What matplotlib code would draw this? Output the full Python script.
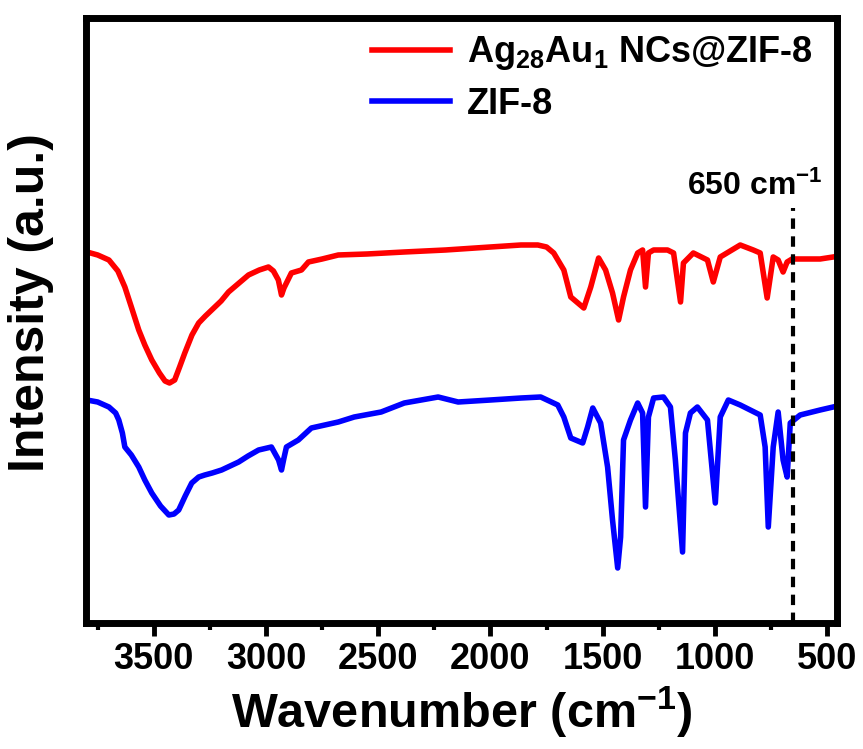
import matplotlib
matplotlib.use('Agg')
import matplotlib.pyplot as plt

# wavenumber (cm-1) and intensity (a.u.)
red_x = [3798, 3750, 3700, 3660, 3629, 3600, 3567, 3540, 3509, 3475, 3450, 3430,
         3407, 3385, 3362, 3330, 3300, 3270, 3242, 3200, 3167, 3120, 3078, 3030,
         2989, 2967, 2945, 2931, 2920, 2909, 2887, 2842, 2811, 2750, 2678, 2550,
         2384, 2200, 2000, 1864, 1789, 1750, 1718,
         1673, 1642, 1584, 1553, 1518, 1487, 1456, 1429, 1407, 1376, 1344, 1322,
         1309, 1296, 1273, 1211, 1184, 1153, 1140, 1096, 1033, 1007, 976, 887,
         829, 798, 767, 740, 718, 696, 678, 656, 589, 531, 473]
red_y = [371, 368, 363, 352, 336, 316, 293, 278, 263, 250, 242, 240,
         243, 256, 270, 288, 300, 307, 313, 322, 331, 340, 348, 353,
         356, 352, 343, 328, 335, 340, 350, 353, 361, 364, 368, 369,
         371, 373, 376, 378, 378, 376, 370,
         353, 326, 315, 336, 365, 353, 330, 303, 326, 353, 370, 373,
         336, 370, 373, 373, 370, 321, 360, 370, 363, 341, 366, 378,
         373, 370, 325, 366, 363, 351, 361, 364, 364, 364, 366]

blue_x = [3798, 3750, 3700, 3670, 3656, 3640, 3629, 3600, 3567, 3540, 3509, 3470,
          3433, 3410, 3389, 3360, 3331, 3300, 3273, 3240, 3198, 3160, 3122, 3080,
          3033, 2976, 2944, 2931, 2920, 2909, 2856, 2798, 2678, 2607, 2487, 2384, 2233,
          2144, 2000, 1864, 1776, 1700, 1673, 1642, 1589, 1567, 1544, 1509, 1478, 1456,
          1433, 1420, 1407, 1376, 1344, 1322, 1309, 1296, 1273, 1229, 1198, 1176,
          1144, 1131, 1109, 1078, 1033, 998, 976, 940, 887, 798, 776, 762,
          740, 718, 696, 678, 664, 620, 531, 473]
blue_y = [223, 221, 216, 210, 203, 190, 176, 168, 156, 143, 130, 117,
          108, 109, 113, 127, 140, 146, 148, 150, 153, 157, 161, 167,
          173, 176, 163, 153, 165, 176, 183, 195, 201, 206, 211, 220, 226,
          221, 223, 225, 226, 218, 206, 185, 180, 196, 215, 200, 156, 103,
          55, 86, 183, 203, 220, 210, 116, 206, 225, 226, 216, 163,
          71, 190, 210, 216, 203, 120, 206, 223, 218, 208, 176, 96,
          176, 211, 163, 146, 200, 208, 213, 216]

labels = [r'Ag$_{28}$Au$_{1}$ NCs@ZIF-8', 'ZIF-8']
mark_x = 650

font = 'Liberation Sans'
plt.rcParams['font.family'] = [font, 'DejaVu Sans']
plt.rcParams['font.weight'] = 'bold'
plt.rcParams['axes.labelweight'] = 'bold'
plt.rcParams['mathtext.fontset'] = 'custom'
plt.rcParams['mathtext.rm'] = font + ':bold'
plt.rcParams['mathtext.bf'] = font + ':bold'
plt.rcParams['mathtext.default'] = 'rm'

fig = plt.figure(figsize=(8.63, 7.49), dpi=100)
ax = fig.add_axes([0.1002, 0.1682, 0.8691, 0.8078])

ax.plot(red_x, red_y, color='#ff0000', lw=4, label=labels[0])
ax.plot(blue_x, blue_y, color='#0000ff', lw=4, label=labels[1])
ax.plot([mark_x, mark_x], [0, 415], color='black', lw=3, ls=(0, (2.5, 1.8)))
ax.text(520, 428, '650 cm$^{-1}$', ha='right', va='baseline', fontsize=23)

ax.set_xlim(3800, 458)
ax.set_ylim(0, 605)
ax.set_xticks([3500, 3000, 2500, 2000, 1500, 1000, 500])
ax.set_xticks([3750, 3250, 2750, 2250, 1750, 1250, 750], minor=True)
ax.set_yticks([])
ax.tick_params(axis='x', which='major', length=9, width=3.5, labelsize=26, pad=5)
ax.tick_params(axis='x', which='minor', length=5, width=3)
for s in ax.spines.values():
    s.set_linewidth(5)

ax.set_xlabel('Wavenumber (cm$^{-1}$)', fontsize=35, labelpad=5)
ax.set_ylabel('Intensity (a.u.)', fontsize=36)
ax.yaxis.set_label_coords(-0.043, 0.53)

ax.legend(loc='upper right', bbox_to_anchor=(1.0, 1.012), frameon=False, fontsize=26,
          handlelength=2.17, handletextpad=0.47, labelspacing=0.4, borderaxespad=0.25)

fig.savefig('out.png', dpi=100)
